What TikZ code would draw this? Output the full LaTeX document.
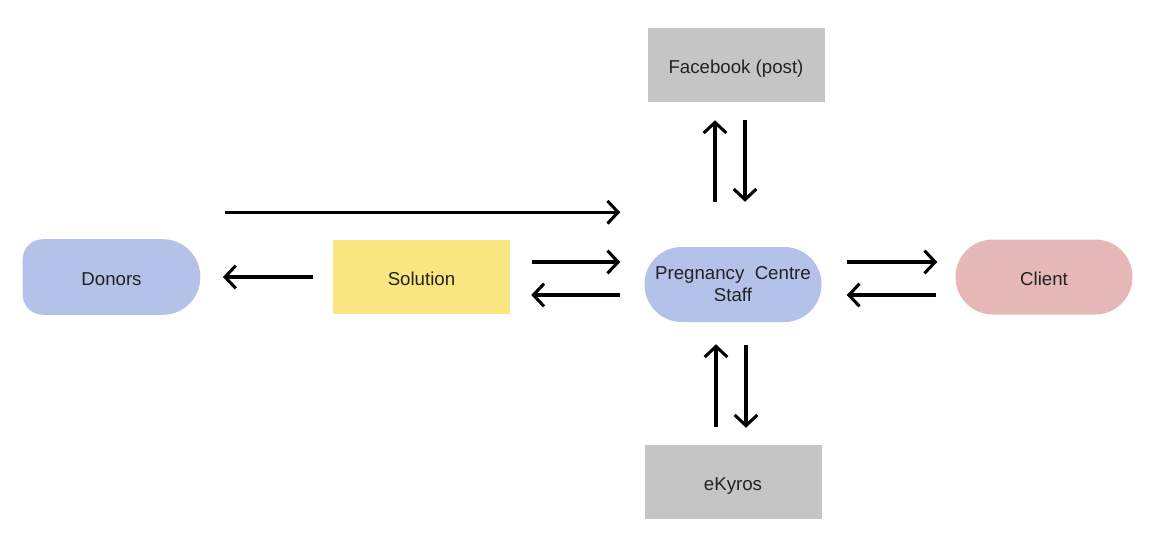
\documentclass[tikz,border=0pt]{standalone}
\usepackage{fontspec}
\setmainfont{Liberation Sans}
\usetikzlibrary{arrows.meta,calc,backgrounds}
\definecolor{cblue}{HTML}{B4C2EA}
\definecolor{cpink}{HTML}{E6B8B7}
\definecolor{cyellow}{HTML}{FAE681}
\definecolor{cgray}{HTML}{C5C5C5}
\definecolor{ctext}{HTML}{222222}
\begin{document}
\begin{tikzpicture}[x=0.75pt,y=-0.75pt,
  box/.style={rectangle, minimum width=132.75pt, minimum height=55.5pt, inner sep=0pt,
    text=ctext, font=\fontsize{14}{16.5}\selectfont, align=center},
  oneline/.style={text height=14pt, text depth=2pt},
  pill/.style={box, rounded corners=28pt, minimum height=56.25pt},
  arr/.style={-{Straight Barb[length=8pt,width=17pt]}, line width=2.3pt, black}]
\useasboundingbox (0,0) rectangle (1154,550);

\node[box, oneline, fill=cgray] (fb) at (736,65) {Facebook (post)};
\node[pill, fill=cblue] (pcs) at (733,284.5) {Pregnancy~ Centre\\Staff};
\node[box, oneline, fill=cgray] (eky) at (733,482) {eKyros};
\node[box, oneline, fill=cyellow] (sol) at (421.5,277) {Solution};
\node[box, oneline, minimum height=56.25pt] (don) at (111.5,277) {Donors};
\node[pill, oneline, fill=cpink] (cli) at (1044,277) {Client};

\begin{scope}[on background layer]
  \fill[cblue, rounded corners=15pt] (don.south west) rectangle ([xshift=-30pt]don.north east);
  \fill[cblue, rounded corners=28pt] ([xshift=30pt]don.south west) rectangle (don.north east);
\end{scope}

% Donors -> Pregnancy Centre Staff (long top arrow)
\coordinate (a1) at ($(don.north east)+(25,-27)$);
\draw[arr, shorten >=18pt] (a1) -- (a1 -| pcs.west);

% Solution <-> Staff
\coordinate (s1) at ($(sol.east)+(22,-15)$);
\draw[arr, shorten >=18pt] (s1) -- (s1 -| pcs.west);
\coordinate (s2) at ($(sol.east)+(21,18)$);
\draw[arr, shorten <=18pt] (s2 -| pcs.west) -- (s2);

% Solution -> Donors
\draw[arr, shorten <=15pt, shorten >=17pt] (sol.west) -- (don.east);

% Staff <-> Client
\coordinate (c1) at ($(cli.west)+(-18,-15)$);
\draw[arr, shorten <=18.75pt] (c1 -| pcs.east) -- (c1);
\coordinate (c2) at ($(cli.west)+(-19,18)$);
\draw[arr, shorten >=18.75pt] (c2) -- (c2 -| pcs.east);

% Staff <-> Facebook
\coordinate (f1) at ($(fb.south)+(-21,18)$);
\draw[arr, shorten <=33.75pt] (f1 |- pcs.north) -- (f1);
\coordinate (f2) at ($(fb.south)+(9,18)$);
\draw[arr, shorten >=33.75pt] (f2) -- (f2 |- pcs.north);

% Staff <-> eKyros
\coordinate (e1) at ($(pcs.south)+(-17,22)$);
\draw[arr, shorten <=13.5pt] (e1 |- eky.north) -- (e1);
\coordinate (e2) at ($(pcs.south)+(13,23)$);
\draw[arr, shorten >=12.75pt] (e2) -- (e2 |- eky.north);
\end{tikzpicture}
\end{document}
